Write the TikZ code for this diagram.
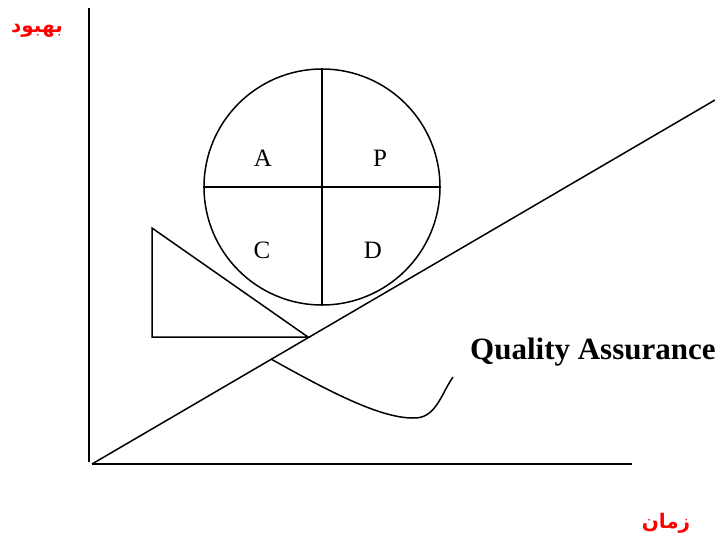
\documentclass[tikz,border=0pt]{standalone}
\usepackage{fontspec}
\setmainfont{Liberation Serif}
\newfontfamily\arabicfont[Script=Arabic]{DejaVu Sans}
\TeXXeTstate=1
\begin{document}
\begin{tikzpicture}[x=1pt,y=-1pt,
  ln/.style={line width=1.5pt,black},
  axis/.style={line width=1.8pt,black},
  lbl/.style={font=\fontsize{25}{25}\selectfont,inner sep=0pt},
  artxt/.style={text=red,font=\arabicfont\bfseries\fontsize{20}{20}\selectfont,inner sep=0pt}]
\useasboundingbox (0,0) rectangle (715,539);
% axes
\coordinate (ytop) at (89,8);
\coordinate (ybot) at (89,462);
\coordinate (o) at (92,464);
\coordinate (xend) at (632,464);
\coordinate (lend) at (715,100);
\draw[axis] (ytop) -- (ybot);
\draw[axis] (o) -- (xend);
\draw[ln] (o) -- (lend);
% circle
\node[draw,ln,circle,minimum size=236pt,inner sep=0pt] (c) at (322,187) {};
\draw[ln] (c.north) -- (c.south);
\draw[ln] (c.west) -- (c.east);
\node[lbl] (A) at (263,158) {A};
\node[lbl] (P) at (380,158) {P};
\node[lbl] (C) at (262,250) {C};
\node[lbl] (D) at (373,250) {D};
% wedge
\coordinate (t1) at (152,228);
\coordinate (t2) at (152,337);
\coordinate (t3) at (308,337);
\draw[ln,line join=miter] (t1) -- (t2) -- (t3) -- cycle;
% curve
\coordinate (q0) at (271,359);
\coordinate (q1) at (413,418);
\coordinate (q2) at (453,377);
\draw[ln] (q0) .. controls (330,392) and (380,418) .. (q1)
  .. controls (436,419) and (441,394) .. (q2);
\node[anchor=base west,inner sep=0pt,font=\bfseries\fontsize{31}{31}\selectfont] (qa) at (470,359) {Quality Assurance};
% arabic labels
\node[artxt] (behbud) at (37,31) {\beginR بهبود\endR};
\node[artxt] (zaman) at (666,523) {\beginR زمان\endR};
\end{tikzpicture}
\end{document}
